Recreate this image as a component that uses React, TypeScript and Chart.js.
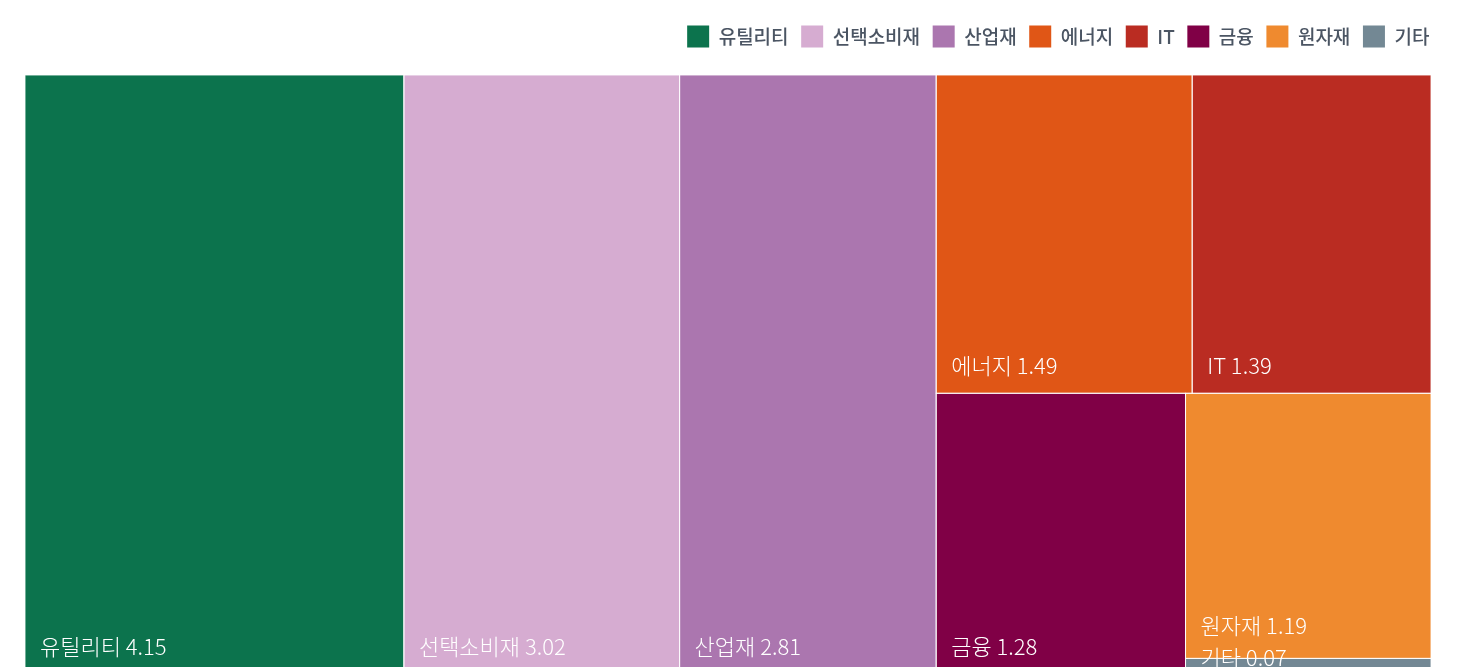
import React, { useEffect, useLayoutEffect, useRef } from 'react';
import { Chart, registerables } from 'chart.js';

Chart.register(...registerables);

// ---- data ----
const categories = ['유틸리티', '선택소비재', '산업재', '에너지', 'IT', '금융', '원자재', '기타'];
const values = [4.15, 3.02, 2.81, 1.49, 1.39, 1.28, 1.19, 0.07];
const colors = ['#0C734D', '#D6ACD1', '#AB76AF', '#E05616', '#BA2C22', '#800046', '#EF8A2F', '#738894'];

const SQUARIFY_RATIO = 0.8;
const LABEL_FONT = '300 22px "Noto Sans CJK KR", "Noto Sans", sans-serif';
const CHART_TOP = 67;

type Cell = { i: number; x0: number; y0: number; x1: number; y1: number };

function squarify(items: { i: number; v: number }[], x0: number, y0: number, x1: number, y1: number, ratio: number): Cell[] {
  const out: Cell[] = [];
  const nodes = items.slice().sort((a, b) => b.v - a.v);
  let value = nodes.reduce((s, n) => s + n.v, 0);
  const n = nodes.length;
  let i0 = 0;
  let i1 = 0;
  while (i0 < n) {
    const dx = x1 - x0;
    const dy = y1 - y0;
    let sumValue = nodes[i1++].v;
    let minValue = sumValue;
    let maxValue = sumValue;
    const alpha = Math.max(dy / dx, dx / dy) / (value * ratio);
    let beta = sumValue * sumValue * alpha;
    let minRatio = Math.max(maxValue / beta, beta / minValue);
    for (; i1 < n; ++i1) {
      const nv = nodes[i1].v;
      sumValue += nv;
      if (nv < minValue) minValue = nv;
      if (nv > maxValue) maxValue = nv;
      beta = sumValue * sumValue * alpha;
      const newRatio = Math.max(maxValue / beta, beta / minValue);
      if (newRatio > minRatio) {
        sumValue -= nv;
        break;
      }
      minRatio = newRatio;
    }
    const row = nodes.slice(i0, i1);
    if (dx < dy) {
      const yy1 = value ? y0 + (dy * sumValue) / value : y1;
      let x = x0;
      for (const nd of row) {
        const w = ((x1 - x0) * nd.v) / sumValue;
        out.push({ i: nd.i, x0: x, y0, x1: x + w, y1: yy1 });
        x += w;
      }
      y0 = yy1;
    } else {
      const xx1 = value ? x0 + (dx * sumValue) / value : x1;
      let y = y0;
      for (const nd of row) {
        const h = ((y1 - y0) * nd.v) / sumValue;
        out.push({ i: nd.i, x0, y0: y, x1: xx1, y1: y + h });
        y += h;
      }
      x0 = xx1;
    }
    value -= sumValue;
    i0 = i1;
  }
  return out;
}

const treemapPlugin = {
  id: 'treemapCells',
  afterDatasetsDraw(chart: any) {
    const { ctx, chartArea, scales } = chart;
    const xs = scales.x;
    const ys = scales.y;
    const W = chartArea.right - chartArea.left;
    const H = chartArea.bottom - chartArea.top;
    const items = values.map((v, i) => ({ i, v })).filter((d) => chart.isDatasetVisible(d.i));
    const cells = squarify(items, 0, 0, W, H, SQUARIFY_RATIO);
    const rects = cells.map((c) => {
      const l = xs.getPixelForValue(c.x0 / W);
      const r = xs.getPixelForValue(c.x1 / W);
      const t = ys.getPixelForValue(c.y0 / H);
      const b = ys.getPixelForValue(c.y1 / H);
      return { i: c.i, l, r, t, b };
    });
    ctx.save();
    for (const rc of rects) {
      ctx.fillStyle = colors[rc.i];
      ctx.fillRect(rc.l, rc.t, rc.r - rc.l, rc.b - rc.t);
    }
    ctx.strokeStyle = 'rgba(255,255,255,0.85)';
    ctx.lineWidth = 1;
    for (const rc of rects) {
      ctx.strokeRect(rc.l, rc.t, rc.r - rc.l, rc.b - rc.t);
    }
    // labels (bottom-left), with vertical shift to avoid overlap
    ctx.font = LABEL_FONT;
    const labels = rects.map((rc) => {
      const text = `${categories[rc.i]} ${values[rc.i].toFixed(2)}`;
      const w = ctx.measureText(text).width;
      const baseline = rc.b - 19.5;
      return { text, x: rc.l + 15, w, top: baseline - 24, bottom: baseline + 8, parent: -1 };
    });
    const order = labels.map((_, k) => k).sort((a, b) => labels[a].top - labels[b].top);
    for (let a = 0; a < order.length; a++) {
      const k = order[a];
      for (let bIdx = 0; bIdx < a; bIdx++) {
        const j = order[bIdx];
        const xo = labels[k].x < labels[j].x + labels[j].w && labels[j].x < labels[k].x + labels[k].w;
        if (xo && labels[k].top < labels[j].bottom && labels[k].bottom > labels[j].top) {
          const d = labels[j].bottom - labels[k].top;
          labels[k].top += d;
          labels[k].bottom += d;
          labels[k].parent = j;
        }
      }
    }
    for (let k = 0; k < labels.length; k++) {
      const excess = labels[k].bottom - chartArea.bottom;
      if (excess > 0) {
        let cur = k;
        while (cur >= 0) {
          labels[cur].top -= excess;
          labels[cur].bottom -= excess;
          cur = labels[cur].parent;
        }
      }
    }
    ctx.fillStyle = '#ffffff';
    ctx.textBaseline = 'alphabetic';
    ctx.textAlign = 'left';
    for (const lb of labels) {
      ctx.fillText(lb.text, lb.x, lb.bottom - 8);
    }
    ctx.restore();
  },
};

export default function App() {
  const ref = useRef<HTMLCanvasElement>(null);

  useLayoutEffect(() => {
    document.documentElement.style.overflow = 'hidden';
    document.body.style.overflow = 'hidden';
  }, []);

  useEffect(() => {
    if (!ref.current) return;
    const chart = new Chart(ref.current, {
      type: 'scatter',
      data: {
        datasets: categories.map((c, i) => ({
          label: c,
          data: [],
          backgroundColor: colors[i],
          borderColor: colors[i],
          borderWidth: 0,
        })),
      },
      options: {
        animation: false,
        responsive: true,
        maintainAspectRatio: false,
        layout: { padding: { left: 17, right: 18, top: 5, bottom: 0 } },
        plugins: {
          legend: {
            position: 'top',
            align: 'end',
            labels: {
              boxWidth: 22,
              boxHeight: 22,
              padding: 12.6,
              color: '#4B5563',
              font: { family: '"Noto Sans CJK KR", "Noto Sans", sans-serif', size: 19, weight: '500' },
            },
          },
          tooltip: { enabled: false },
        },
        scales: {
          x: {
            type: 'linear',
            min: 0,
            max: 1,
            position: 'top',
            grid: { display: false },
            ticks: { display: false },
            border: { display: false },
            afterFit(s: any) {
              const lh = s.chart.legend ? s.chart.legend.height : 0;
              s.height = Math.max(0, CHART_TOP - 5 - lh);
            },
          },
          y: {
            type: 'linear',
            min: 0,
            max: 1,
            reverse: true,
            position: 'right',
            grid: { display: false },
            ticks: { display: false },
            border: { display: false },
            afterFit(s: any) {
              s.width = 11;
            },
          },
        },
      },
      plugins: [treemapPlugin],
    } as any);
    return () => chart.destroy();
  }, []);

  return (
    <div style={{ position: 'relative', width: '100%', height: 666 }}>
      <canvas ref={ref} />
    </div>
  );
}
